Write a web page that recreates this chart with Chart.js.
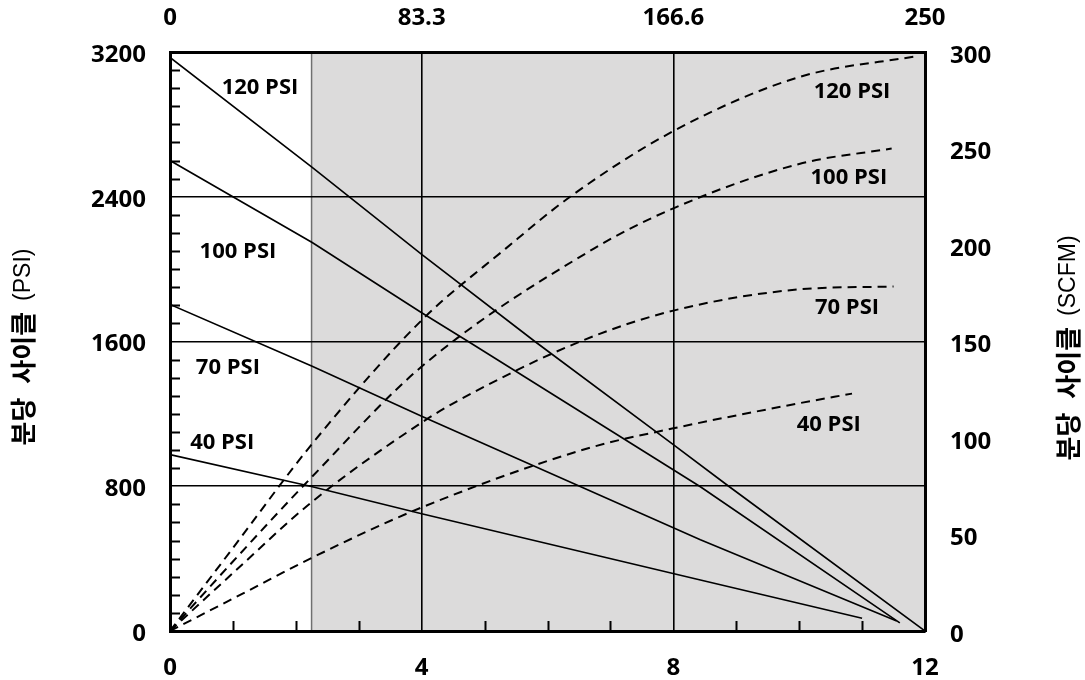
<!DOCTYPE html>
<html lang="ko">
<head>
<meta charset="UTF-8">
<title>분당 사이클</title>
<style>
  body { margin: 0; background: #fff; }
  .chart-box { width: 1085px; height: 680px; }
</style>
<script src="https://cdn.jsdelivr.net/npm/chart.js"></script>
</head>
<body>
<div class="chart-box"><canvas id="cycleChart"></canvas></div>
<script>
  // axis labels
  const topTickLabels = ['0', '83.3', '166.6', '250'];
  const leftTitle = ['분당', '사이클', '(PSI)'];
  const rightTitle = ['분당', '사이클', '(SCFM)'];
  const pressureNames = ['120 PSI', '100 PSI', '70 PSI', '40 PSI'];

  // solid lines, left axis
  const cycles120X = [0, 2.26, 4, 5.8, 8, 8.88, 12];
  const cycles120Y = [3170, 2562, 2082, 1600, 1030, 800, 0];
  const cycles100X = [0, 2.26, 4, 4.74, 8.43, 11.6];
  const cycles100Y = [2600, 2147, 1759, 1600, 797, 45];
  const cycles70X = [0, 2.26, 4, 8.43, 11.55];
  const cycles70Y = [1805, 1463, 1187, 504, 55];
  const cycles40X = [0, 2.23, 4, 8.43, 11.0];
  const cycles40Y = [975, 800, 648, 282, 70];

  // dashed curves, right axis
  const flow120X = [0, 1, 2.26, 4, 5.33, 6.36, 8, 10, 11.9];
  const flow120Y = [0, 43, 97, 161, 198, 225, 259, 287, 298];
  const flow100X = [0, 1, 2.26, 4, 6.73, 8, 10, 11.47];
  const flow100Y = [0, 36, 80, 137, 198, 219, 242, 250];
  const flow70X = [0, 1, 2.26, 4, 4.56, 6.52, 8, 10, 11.5];
  const flow70Y = [0, 30, 67, 108, 119, 150, 166, 177, 178.5];
  const flow40X = [0, 1.17, 2.26, 4, 6.68, 8, 10, 10.84];
  const flow40Y = [0, 19.6, 38, 64, 95, 105, 118, 123];

  const shadeFrom = 2.25;

  function toPoints(xs, ys) {
    return xs.map((x, i) => ({ x: x, y: ys[i] }));
  }

  const solidSeries = [[cycles120X, cycles120Y], [cycles100X, cycles100Y], [cycles70X, cycles70Y], [cycles40X, cycles40Y]];
  const dashedSeries = [[flow120X, flow120Y], [flow100X, flow100Y], [flow70X, flow70Y], [flow40X, flow40Y]];

  const datasets = [];
  solidSeries.forEach((s, i) => {
    datasets.push({
      label: pressureNames[i] + ' cycles',
      data: toPoints(s[0], s[1]),
      borderColor: '#000',
      borderWidth: 1.6,
      pointRadius: 0,
      tension: 0,
      fill: false,
      xAxisID: 'x',
      yAxisID: 'y'
    });
  });
  dashedSeries.forEach((s, i) => {
    datasets.push({
      label: pressureNames[i] + ' flow',
      data: toPoints(s[0], s[1]),
      borderColor: '#000',
      borderWidth: 2,
      borderDash: [9, 6],
      pointRadius: 0,
      cubicInterpolationMode: 'monotone',
      fill: false,
      xAxisID: 'x',
      yAxisID: 'y2'
    });
  });

  // label places, in data units: [x, value, axis]
  const labelPlaces = [
    [1.43, 3002, 'y'], [1.08, 2095, 'y'], [0.92, 1454, 'y'], [0.83, 1039, 'y'],
    [10.84, 279.3, 'y2'], [10.79, 234.7, 'y2'], [10.76, 167.4, 'y2'], [10.47, 106.7, 'y2']
  ];

  const tickFont = { family: 'Open Sans', size: 24, weight: 'bold' };

  const decorPlugin = {
    id: 'decor',
    beforeDraw(chart) {
      const ctx = chart.ctx;
      const a = chart.chartArea;
      const xs = chart.scales.x;
      ctx.save();
      ctx.fillStyle = '#fff';
      ctx.fillRect(0, 0, chart.width, chart.height);
      const sx = xs.getPixelForValue(shadeFrom);
      ctx.fillStyle = '#dcdbdb';
      ctx.fillRect(sx, a.top, a.right - sx, a.bottom - a.top);
      ctx.strokeStyle = '#707070';
      ctx.lineWidth = 1.5;
      ctx.beginPath();
      ctx.moveTo(sx, a.top);
      ctx.lineTo(sx, a.bottom);
      ctx.stroke();
      ctx.restore();
    },
    beforeDatasetsDraw(chart) {
      const ctx = chart.ctx;
      const a = chart.chartArea;
      const xs = chart.scales.x;
      const ys = chart.scales.y;
      ctx.save();
      ctx.strokeStyle = '#000';
      ctx.lineWidth = 2;
      ctx.beginPath();
      for (let v = 100; v < 3200; v += 100) {
        if (v % 800 === 0) continue;
        const py = Math.round(ys.getPixelForValue(v)) + 0.5;
        ctx.moveTo(a.left, py);
        ctx.lineTo(a.left + 10, py);
      }
      for (let v = 1; v < 12; v++) {
        if (v % 4 === 0) continue;
        const px = Math.round(xs.getPixelForValue(v)) + 0.5;
        ctx.moveTo(px, a.bottom);
        ctx.lineTo(px, a.bottom - 10);
      }
      ctx.stroke();
      ctx.restore();
    },
    afterDraw(chart) {
      const ctx = chart.ctx;
      const xs = chart.scales.x;
      ctx.save();
      ctx.fillStyle = '#000';
      ctx.font = 'bold 22px "Open Sans"';
      ctx.textAlign = 'center';
      ctx.textBaseline = 'middle';
      labelPlaces.forEach((p, i) => {
        const px = xs.getPixelForValue(p[0]);
        const py = chart.scales[p[2]].getPixelForValue(p[1]);
        ctx.fillText(pressureNames[i % 4], px, py);
      });
      drawTitle(ctx, leftTitle, 23, 347);
      drawTitle(ctx, rightTitle, 1068, 348);
      ctx.restore();
    }
  };

  // rotated title: korean words bold, unit in parentheses regular
  function drawTitle(ctx, parts, cx, cy) {
    const fontK = 'bold 26px "Noto Sans CJK KR"';
    const fontU = '23px "Liberation Sans"';
    const gapWord = 14;
    const gapUnit = 11;
    ctx.save();
    ctx.translate(cx, cy);
    ctx.rotate(-Math.PI / 2);
    ctx.font = fontK;
    const w0 = ctx.measureText(parts[0]).width;
    const w1 = ctx.measureText(parts[1]).width;
    ctx.font = fontU;
    const w2 = ctx.measureText(parts[2]).width;
    let x = -(w0 + gapWord + w1 + gapUnit + w2) / 2;
    ctx.textAlign = 'left';
    ctx.textBaseline = 'middle';
    ctx.font = fontK;
    ctx.fillText(parts[0], x, 0);
    x += w0 + gapWord;
    ctx.fillText(parts[1], x, 0);
    x += w1 + gapUnit;
    ctx.font = fontU;
    ctx.fillText(parts[2], x, 1);
    ctx.restore();
  }

  const ctx = document.getElementById('cycleChart').getContext('2d');
  const cycleChart = new Chart(ctx, {
    type: 'line',
    data: { datasets: datasets },
    plugins: [decorPlugin],
    options: {
      responsive: true,
      maintainAspectRatio: false,
      animation: false,
      layout: { padding: 0 },
      plugins: { legend: { display: false }, tooltip: { enabled: false } },
      scales: {
        x: {
          type: 'linear', position: 'bottom', min: 0, max: 12,
          ticks: { stepSize: 4, font: tickFont, color: '#000', padding: 23, maxRotation: 0 },
          grid: {
            drawTicks: false, lineWidth: 1.6,
            color: (c) => (c.tick && (c.tick.value === 4 || c.tick.value === 8)) ? '#000' : 'rgba(0,0,0,0)'
          },
          border: { display: true, width: 3, color: '#000' },
          afterFit: (s) => { s.height = 49; }
        },
        x2: {
          type: 'linear', position: 'top', min: 0, max: 12,
          ticks: { stepSize: 4, font: tickFont, color: '#000', padding: 19, maxRotation: 0,
            callback: (v, i) => topTickLabels[i] },
          grid: { display: false, drawTicks: false },
          border: { display: true, width: 3, color: '#000' },
          afterFit: (s) => { s.height = 52; }
        },
        y: {
          type: 'linear', position: 'left', min: 0, max: 3200,
          ticks: { stepSize: 800, font: tickFont, color: '#000', padding: 24, labelOffset: 3,
            callback: (v) => String(v) },
          grid: {
            drawTicks: false, lineWidth: 1.6,
            color: (c) => (c.tick && c.tick.value > 0 && c.tick.value < 3200) ? '#000' : 'rgba(0,0,0,0)'
          },
          border: { display: true, width: 3, color: '#000' },
          afterFit: (s) => { s.width = 170; }
        },
        y2: {
          type: 'linear', position: 'right', min: 0, max: 300,
          ticks: { stepSize: 50, font: tickFont, color: '#000', padding: 25, labelOffset: 4 },
          grid: { display: false, drawTicks: false },
          border: { display: true, width: 3, color: '#000' },
          afterFit: (s) => { s.width = 160; }
        }
      }
    }
  });
</script>
</body>
</html>
